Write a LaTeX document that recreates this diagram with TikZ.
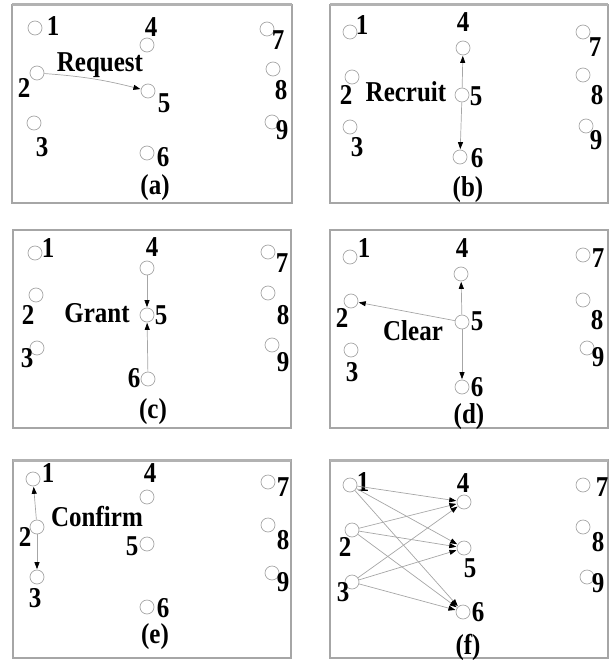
\documentclass[tikz,border=0pt]{standalone}
\usepackage{fontspec}
\setmainfont{Liberation Serif}
\usetikzlibrary{arrows.meta}
\tikzset{
  vert/.style={circle,draw=gray!70,line width=0.7pt,minimum size=14pt,inner sep=0pt},
  lbl/.style={font=\fontsize{25}{25}\selectfont\bfseries,inner sep=0pt},
  arr/.style={draw=gray!70,line width=0.7pt,-{Triangle[length=7pt,width=5pt,black]},shorten >=0.5pt},
  frame/.style={draw=gray!70,line width=1.2pt},
  topedge/.style={draw=gray!60,line width=3pt}
}
\newcommand{\tall}[1]{\scalebox{1}[1.15]{#1}}
\newcommand{\vtx}[4]{\node[vert] (#1) at (#2) {}; \node[lbl] (#1l) at (#3) {\tall{#4}};}
\begin{document}
\begin{tikzpicture}[x=1pt,y=-1pt]
\useasboundingbox (0,0) rectangle (610,660);
% frames
\draw[frame] (12,5) rectangle (292,203);
\draw[topedge] (12,5) -- (292,5);
\draw[frame] (330,5) rectangle (608,203);
\draw[topedge] (330,5) -- (608,5);
\draw[frame] (13,230) rectangle (291,428);
\draw[frame] (330,230) rectangle (608,428);
\draw[frame] (13,460) rectangle (291,658);
\draw[topedge] (13,460) -- (291,460);
\draw[frame] (330,460) rectangle (608,658);
\draw[topedge] (330,460) -- (608,460);

% (a)
\vtx{a1}{35,28}{53,26}{1}
\vtx{a4}{147,45}{151,27}{4}
\vtx{a7}{267,29}{278,40}{7}
\vtx{a2}{37,73}{24,88}{2}
\vtx{a5}{148,91}{164,103}{5}
\vtx{a8}{273,69}{281,90}{8}
\vtx{a3}{34,123}{42,147}{3}
\vtx{a9}{272,122}{282,130}{9}
\vtx{a6}{147,153}{163,157}{6}
\node[lbl] (areq) at (100,65) {\tall{Request}};
\node[lbl] (acap) at (155,188) {\tall{(a)}};
\draw[arr] (a2) to[bend left=5] (a5);

% (b)
\vtx{b1}{350,32}{362,25}{1}
\vtx{b4}{463,48}{463,22}{4}
\vtx{b7}{583,32}{595,47}{7}
\vtx{b2}{352,77}{346,95}{2}
\vtx{b5}{462,95}{476,96}{5}
\vtx{b8}{583,75}{597,95}{8}
\vtx{b3}{350,127}{357,147}{3}
\vtx{b9}{586,126}{596,140}{9}
\vtx{b6}{460,157}{477,158}{6}
\node[lbl] (brec) at (406,92) {\tall{Recruit}};
\node[lbl] (bcap) at (468,190) {\tall{(b)}};
\draw[arr] (b5) -- (b4);
\draw[arr] (b5) -- (b6);

% (c)
\vtx{c1}{35,253}{48,248}{1}
\vtx{c4}{147,268}{152,247}{4}
\vtx{c7}{268,252}{282,263}{7}
\vtx{c2}{36,295}{28,315}{2}
\vtx{c5}{147,315}{161,315}{5}
\vtx{c8}{268,293}{283,315}{8}
\vtx{c3}{37,348}{27,358}{3}
\vtx{c9}{272,345}{283,362}{9}
\vtx{c6}{148,379}{134,378}{6}
\node[lbl] (cgra) at (97,313) {\tall{Grant}};
\node[lbl] (ccap) at (153,412) {\tall{(c)}};
\draw[arr] (c4) -- (c5);
\draw[arr] (c6) -- (c5);

% (d)
\vtx{d1}{350,257}{364,248}{1}
\vtx{d4}{461,274}{462,248}{4}
\vtx{d7}{583,255}{598,258}{7}
\vtx{d2}{351,301}{342,318}{2}
\vtx{d5}{462,322}{477,321}{5}
\vtx{d8}{583,300}{597,320}{8}
\vtx{d3}{351,350}{352,372}{3}
\vtx{d9}{587,348}{598,357}{9}
\vtx{d6}{462,387}{477,387}{6}
\node[lbl] (dcle) at (413,331) {\tall{Clear}};
\node[lbl] (dcap) at (469,417) {\tall{(d)}};
\draw[arr] (d5) -- (d4);
\draw[arr] (d5) -- (d6);
\draw[arr] (d5) -- (d2);

% (e)
\vtx{e1}{33,479}{48,473}{1}
\vtx{e4}{147,497}{150,473}{4}
\vtx{e7}{268,482}{283,487}{7}
\vtx{e2}{37,527}{25,537}{2}
\vtx{e5}{147,544}{132,546}{5}
\vtx{e8}{268,525}{283,540}{8}
\vtx{e3}{37,577}{35,598}{3}
\vtx{e9}{272,573}{283,582}{9}
\vtx{e6}{147,607}{163,608}{6}
\node[lbl] (econ) at (97,517) {\tall{Confirm}};
\node[lbl] (ecap) at (155,637) {\tall{(e)}};
\draw[arr] (e2) -- (e1);
\draw[arr] (e2) -- (e3);

% (f)
\vtx{f1}{350,485}{363,482}{1}
\vtx{f4}{464,502}{463,483}{4}
\vtx{f7}{583,485}{602,487}{7}
\vtx{f2}{352,530}{345,547}{2}
\vtx{f5}{464,548}{470,568}{5}
\vtx{f8}{583,527}{598,542}{8}
\vtx{f3}{352,582}{343,592}{3}
\vtx{f9}{587,577}{598,583}{9}
\vtx{f6}{463,612}{478,612}{6}
\node[lbl] (fcap) at (468,647) {\tall{(f)}};
\foreach \s in {f1,f2,f3}{
  \foreach \t in {f4,f5,f6}{
    \draw[arr] (\s) -- (\t);
  }
}
\end{tikzpicture}
\end{document}
